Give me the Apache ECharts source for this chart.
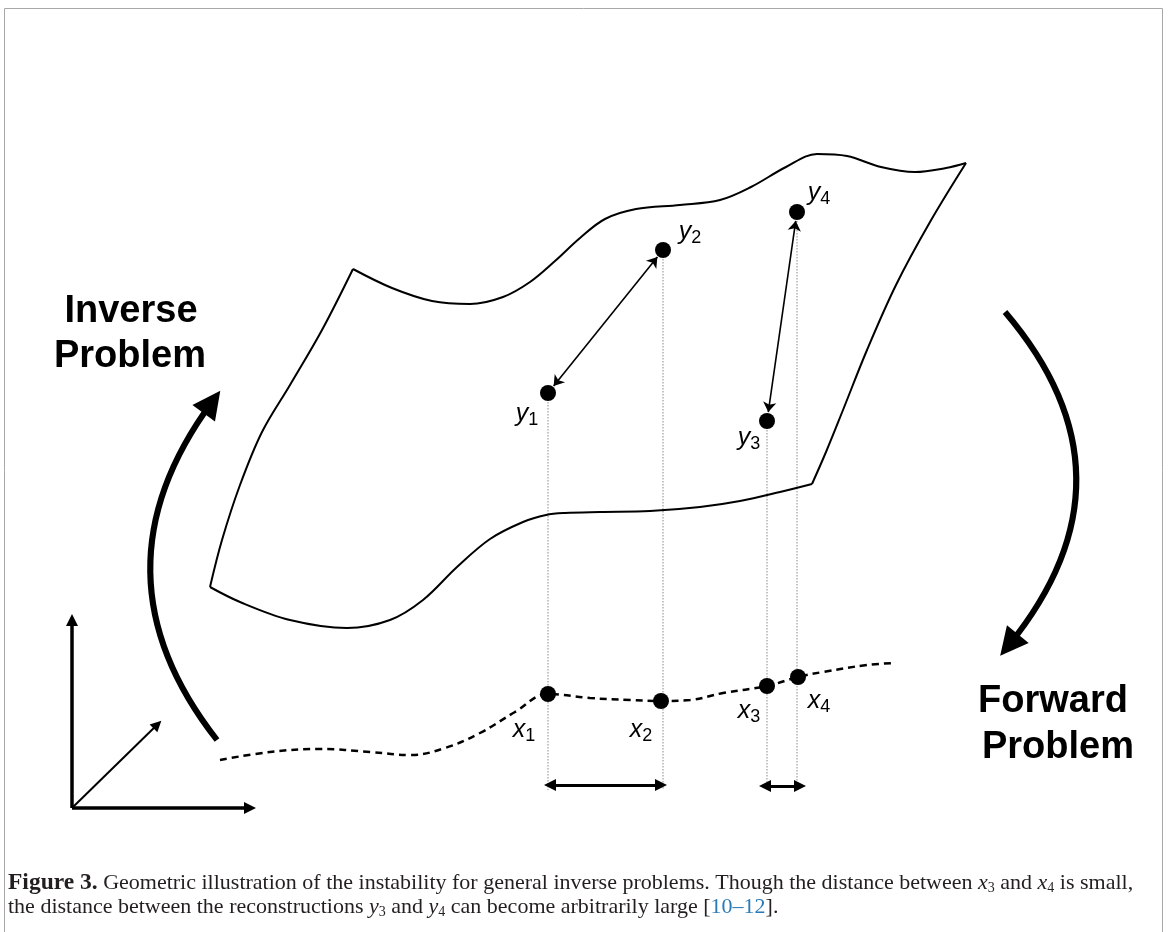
<!DOCTYPE html>
<html><head><meta charset="utf-8">
<script src="https://cdn.jsdelivr.net/npm/echarts@6/dist/echarts.min.js"></script>
<style>html,body{margin:0;padding:0;background:#fff}#c{width:1168px;height:932px}</style>
</head><body><div id="c"></div>
<script>
// ---- data (diagram coordinates, 1 unit = 1 px, y downward) ----
const surfaceTop = [[353,269],[392,288],[432,301],[470,304],[503,297],[530,282],[555,261],[580,238],[605,219],[636,209],[680,205],[720,200],[751,187],[786,167],[817,154],[847,156],[881,167],[915,172],[946,168],[966,163]];
const surfaceRight = [[966,163],[930,222],[896,285],[867,350],[843,410],[826,452],[812,484]];
const surfaceBottom = [[812,484],[780,492],[740,501],[700,507],[650,511],[600,512],[565,513],[546,515],[523,522],[490,539],[457,567],[423,600],[390,620],[347,628],[290,620],[240,602],[210,587]];
const surfaceLeft = [[210,587],[222,540],[240,485],[262,432],[290,385],[322,330],[353,269]];
const yPoints = [[548,393],[663,250],[767,421],[797,212]];
const xPoints = [[548,694],[661,701],[767,686],[798,677]];
const pointIndex = ['1','2','3','4'];
const yLabelPos = [[527,414],[690,232],[749,438],[819,193]];
const xLabelPos = [[524,730],[641,730],[749,711],[819,701]];
const dashedCurve = [[220,760],[270,752],[320,749],[370,752],[410,755],[445,748],[480,733],[515,712],[548,694],[590,698],[630,700],[661,701],[690,700],[723,693],[767,686],[798,677],[823,672],[867,665],[895,663]];
const projectionEndY = 790;
const spanArrows = [[[544,785],[667,785]],[[759,786],[806,786]]];
const pairArrows = [[0,1],[2,3]];
const axisOrigin = [72,808];
const axisTips = [[72,614],[256,808],[161,721]];
const inverseArrow = {from:[217,740], to:[212,402], curveness:0.38};
const forwardArrow = {from:[1005,312], to:[1009,645], curveness:0.416};
const problemTexts = [['Inverse',131,312],['Problem',130,357],['Forward',1053,702],['Problem',1058,748]];
const captionLine1 = '{b|Figure 3.} Geometric illustration of the instability for general inverse problems. Though the distance between {i|x}{sub|3} and {i|x}{sub|4} is small,';
const captionLine2 = 'the distance between the reconstructions {i|y}{sub|3} and {i|y}{sub|4} can become arbitrarily large [{link|10–12}].';

// ---- helpers ----
function along(p, q, d){ const dx=q[0]-p[0], dy=q[1]-p[1], L=Math.hypot(dx,dy); return [p[0]+dx/L*d, p[1]+dy/L*d]; }
const DOT = 16;

const series = [];
[surfaceTop, surfaceRight, surfaceBottom, surfaceLeft].forEach(edge => {
  series.push({type:'line', data:edge, smooth:0.35, symbol:'none', silent:true,
    lineStyle:{color:'#000', width:2}, z:2});
});
// projection dotted lines
yPoints.forEach(p => {
  series.push({type:'line', data:[p,[p[0],projectionEndY]], symbol:'none', silent:true,
    lineStyle:{color:'#8a8a8a', width:1, type:[1.5,1.5]}, z:1});
});
// dashed x-curve
series.push({type:'line', data:dashedCurve, smooth:0.4, symbol:'none', silent:true,
  lineStyle:{color:'#000', width:2.5, type:[7,5]}, z:2});
// points
series.push({type:'scatter', data:yPoints.concat(xPoints), symbol:'circle', symbolSize:DOT,
  itemStyle:{color:'#000', opacity:1}, z:5, silent:true});
// pair double arrows between y points
const pairData = pairArrows.map(([a,b]) => {
  const p=yPoints[a], q=yPoints[b];
  return {coords:[along(p,q,DOT/2+1), along(q,p,DOT/2+1)]};
});
series.push({type:'lines', coordinateSystem:'cartesian2d', data:pairData, symbol:['arrow','arrow'], symbolSize:10,
  lineStyle:{color:'#000', width:1.6, opacity:1}, z:4, silent:true});
// span arrows at bottom
series.push({type:'lines', coordinateSystem:'cartesian2d',
  data:spanArrows.map(([p,q]) => ({coords:[along(p,q,6), along(q,p,6)]})),
  symbol:['triangle','triangle'], symbolSize:12, lineStyle:{color:'#000', width:3, opacity:1}, z:4, silent:true});
// coordinate axes
series.push({type:'lines', coordinateSystem:'cartesian2d',
  data:axisTips.slice(0,2).map(t => ({coords:[axisOrigin, along(t, axisOrigin, 6)]})),
  symbol:['none','triangle'], symbolSize:12, lineStyle:{color:'#000', width:3.5, opacity:1}, z:4, silent:true});
series.push({type:'lines', coordinateSystem:'cartesian2d',
  data:[{coords:[axisOrigin, along(axisTips[2], axisOrigin, 5)]}],
  symbol:['none','triangle'], symbolSize:11, lineStyle:{color:'#000', width:2, opacity:1}, z:4, silent:true});
// big curved arrows
[inverseArrow, forwardArrow].forEach(a => {
  series.push({type:'lines', coordinateSystem:'cartesian2d', data:[{coords:[a.from, a.to]}],
    symbol:['none','triangle'], symbolSize:28,
    lineStyle:{color:'#000', width:6, opacity:1, curveness:a.curveness}, z:4, silent:true});
});
// point labels
const labelRich = {
  v:{fontSize:25, fontStyle:'italic', fontFamily:'Liberation Sans', color:'#000', lineHeight:30},
  s:{fontSize:18, fontFamily:'Liberation Sans', color:'#000', lineHeight:16, verticalAlign:'bottom'}
};
function labelSeries(letter, pos){
  return {type:'scatter', symbolSize:0, silent:true, z:6, itemStyle:{opacity:1},
    data: pos.map((p,i) => ({value:p, name:pointIndex[i]})),
    label:{show:true, position:'inside', formatter: d => '{v|'+letter+'}{s|'+d.name+'}', rich:labelRich}};
}
series.push(labelSeries('y', yLabelPos));
series.push(labelSeries('x', xLabelPos));
// problem texts
series.push({type:'scatter', symbolSize:0, silent:true, z:6, itemStyle:{opacity:1},
  data: problemTexts.map(t => ({value:[t[1],t[2]], name:t[0]})),
  label:{show:true, position:'inside', formatter:d=>d.name, fontFamily:'Liberation Sans', fontWeight:'bold', fontSize:38, color:'#000'}});

const CF = 'Liberation Serif', CC = '#231f20';
const chart = echarts.init(document.getElementById('c'), null, {renderer:'canvas'});
chart.setOption({
  animation:false,
  backgroundColor:'#fff',
  grid:{left:0, right:0, top:0, bottom:0},
  xAxis:{type:'value', min:0, max:1168, show:false},
  yAxis:{type:'value', min:0, max:932, inverse:true, show:false},
  title:{left:8, top:871, padding:0, text:captionLine1+'\n'+captionLine2,
    textStyle:{fontFamily:CF, fontSize:22, fontWeight:'normal', color:CC, lineHeight:24,
      rich:{
        b:{fontFamily:CF, fontSize:23.5, fontWeight:'bold', color:CC, lineHeight:24},
        i:{fontFamily:CF, fontSize:22, fontStyle:'italic', color:CC, lineHeight:24},
        sub:{fontFamily:CF, fontSize:14, color:CC, lineHeight:14, verticalAlign:'bottom'},
        link:{fontFamily:CF, fontSize:22, color:'#2a7ab8', lineHeight:24}
      }}},
  graphic:[{type:'rect', shape:{x:4.5, y:8.5, width:1158, height:960}, silent:true,
    style:{fill:'none', stroke:'#a8a8a8', lineWidth:1}}],
  series: series
});
</script></body></html>
